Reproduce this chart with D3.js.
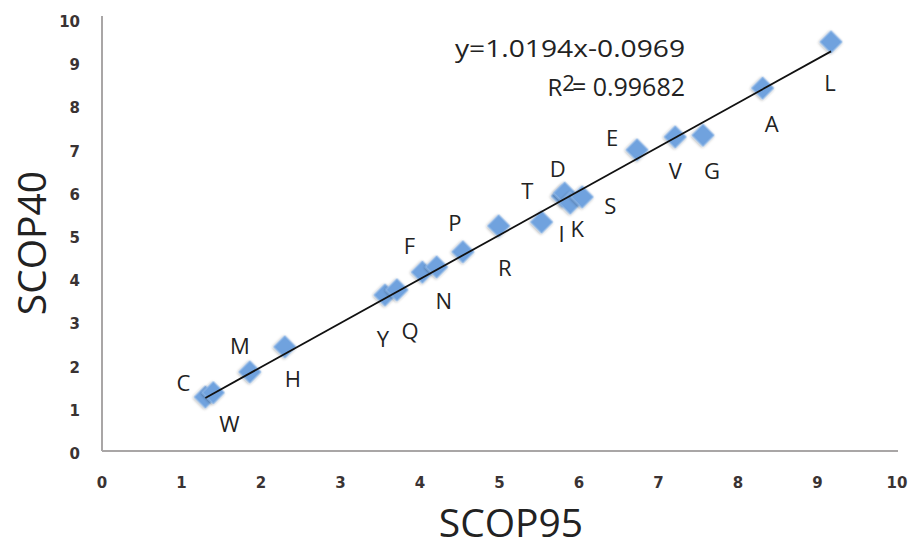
<!DOCTYPE html>
<html lang="en">
<head>
<meta charset="utf-8">
<title>SCOP95 vs SCOP40</title>
<script src="https://d3js.org/d3.v7.min.js"></script>
<style>
  body { margin: 0; background: #fff; }
  .tick-label { font-family: "DejaVu Sans", sans-serif; font-weight: bold; font-size: 15px; fill: #3a3333; }
  .pt-label { font-family: "Open Sans", sans-serif; font-size: 22px; fill: #222; }
  .axis-title { font-family: "Open Sans", sans-serif; font-size: 39px; fill: #222; }
  .eq { font-family: "Open Sans", sans-serif; font-size: 24px; fill: #222; }
</style>
</head>
<body>
<div id="chart"></div>
<script>
// amino acid background frequencies (%)
var aminoAcids = ["C","W","M","H","Y","Q","F","N","P","R","I","T","D","K","S","E","V","G","A","L"];
var scop95 = [1.30,1.40,1.86,2.30,3.56,3.71,4.03,4.21,4.54,4.99,5.53,5.79,5.82,5.89,6.04,6.73,7.21,7.56,8.31,9.17];
var scop40 = [1.25,1.35,1.83,2.41,3.61,3.73,4.14,4.26,4.61,5.21,5.30,5.90,5.97,5.74,5.88,6.97,7.27,7.31,8.40,9.47];
var ticks = [0,1,2,3,4,5,6,7,8,9,10];
var slope = 1.0194, intercept = -0.0969;
var eqText = "y=1.0194x-0.0969", r2Text = "0.99682";

// where each letter sits relative to its marker (px)
var labelDx = [-22,16,-10,8,-2,13,-13,7,-8,6,20,-35,-7,7,28,-25,0,9,9,-1];
var labelDy = [-15,30,-27,31,43,40,-27,33,-30,41,11,-6,-25,25,8,-13,33,35,35,40];

var W = 918, H = 551;
var svg = d3.select("#chart").append("svg")
    .attr("width", W).attr("height", H);

var x = d3.scaleLinear().domain([0, 10]).range([102, 897]);
var y = d3.scaleLinear().domain([0, 10]).range([451, 19]);

var defs = svg.append("defs");
var f = defs.append("filter").attr("id", "soft")
    .attr("x", "-50%").attr("y", "-50%").attr("width", "200%").attr("height", "200%");
f.append("feGaussianBlur").attr("in", "SourceAlpha").attr("stdDeviation", 1.5).attr("result", "b");
f.append("feOffset").attr("in", "b").attr("dx", 0).attr("dy", 1).attr("result", "o");
f.append("feComponentTransfer").attr("in", "o").attr("result", "s")
  .append("feFuncA").attr("type", "linear").attr("slope", 0.35);
var m = f.append("feMerge");
m.append("feMergeNode").attr("in", "s");
m.append("feMergeNode").attr("in", "SourceGraphic");

// axes
svg.append("line")
    .attr("x1", x(0)).attr("x2", x(0))
    .attr("y1", y(0)).attr("y2", y(10) - 3)
    .attr("stroke", "#a9a6a6").attr("stroke-width", 2);
svg.append("line")
    .attr("x1", x(0)).attr("x2", x(10) + 1)
    .attr("y1", y(0)).attr("y2", y(0))
    .attr("stroke", "#a9a6a6").attr("stroke-width", 2);

svg.selectAll(".xt").data(ticks).enter().append("text")
    .attr("class", "tick-label")
    .attr("x", function(d){ return x(d); })
    .attr("y", y(0) + 37)
    .attr("text-anchor", "middle")
    .text(function(d){ return d; });

svg.selectAll(".yt").data(ticks).enter().append("text")
    .attr("class", "tick-label")
    .attr("x", 80)
    .attr("y", function(d){ return y(d) + 8; })
    .attr("text-anchor", "end")
    .text(function(d){ return d; });

svg.append("text").attr("class", "axis-title")
    .attr("x", 511).attr("y", 537)
    .attr("text-anchor", "middle")
    .text("SCOP95");
svg.append("text").attr("class", "axis-title")
    .attr("transform", "translate(46,243) rotate(-90)")
    .attr("text-anchor", "middle")
    .text("SCOP40");

// markers
var pts = aminoAcids.map(function(a, i){ return {aa: a, x: scop95[i], y: scop40[i], dx: labelDx[i], dy: labelDy[i]}; });
var sym = d3.symbol().type(d3.symbolSquare).size(250);
svg.selectAll(".pt").data(pts).enter().append("path")
    .attr("d", sym)
    .attr("transform", function(d){ return "translate(" + x(d.x) + "," + y(d.y) + ") rotate(45)"; })
    .attr("fill", "#6fa2de")
    .attr("stroke", "#94bbe9")
    .attr("stroke-width", 1)
    .attr("filter", "url(#soft)");

// trend line
var xMin = d3.min(scop95), xMax = d3.max(scop95);
svg.append("line")
    .attr("x1", x(xMin)).attr("y1", y(slope * xMin + intercept))
    .attr("x2", x(xMax)).attr("y2", y(slope * xMax + intercept))
    .attr("stroke", "#111").attr("stroke-width", 1.8);

svg.selectAll(".pl").data(pts).enter().append("text")
    .attr("class", "pt-label")
    .attr("x", function(d){ return x(d.x) + d.dx; })
    .attr("y", function(d){ return y(d.y) + d.dy; })
    .attr("text-anchor", "middle")
    .attr("dominant-baseline", "central")
    .text(function(d){ return d.aa; });

// equation
svg.append("text").attr("class", "eq")
    .attr("x", 455).attr("y", 57)
    .attr("textLength", 230)
    .attr("lengthAdjust", "spacingAndGlyphs")
    .text(eqText);
var r2 = svg.append("text").attr("class", "eq")
    .attr("x", 685).attr("y", 96)
    .attr("text-anchor", "end");
r2.append("tspan").text("R");
r2.append("tspan").attr("dy", -5).attr("font-size", 22).text("2");
r2.append("tspan").attr("dy", 5).attr("dx", -3).attr("font-size", 25).text("= " + r2Text);
</script>
</body>
</html>
